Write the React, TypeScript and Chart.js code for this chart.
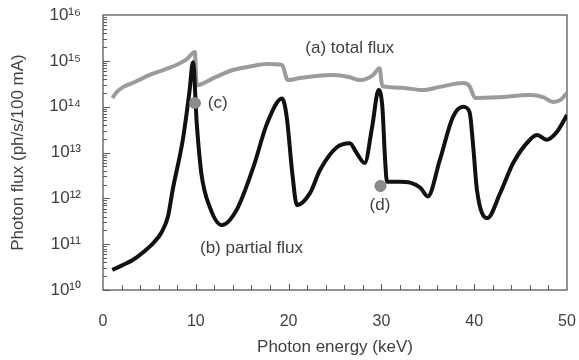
import React, { useEffect, useRef } from 'react';
import { Chart, registerables } from 'chart.js';

Chart.register(...registerables);

// (a) total flux
const totalEnergy = [1, 1.5, 2.2, 3.5, 5.1, 6.5, 8.0, 9.0, 9.9, 10.1, 12, 14, 16, 17.7, 19.3, 19.9, 21.2, 22.3, 24.8, 26.6, 27.7, 29.1, 29.8, 30.1, 32, 34.5, 36.3, 38.8, 39.5, 40.1, 42.5, 46, 47.5, 48.5, 49.3, 50];
const totalFlux = [1.55e14, 2.1e14, 2.7e14, 3.5e14, 5.0e14, 6.3e14, 8.3e14, 1.07e15, 1.55e15, 2.95e14, 4.3e14, 6.3e14, 7.6e14, 8.5e14, 8.1e14, 3.8e14, 4.2e14, 4.5e14, 4.9e14, 4.4e14, 3.8e14, 4.9e14, 6.9e14, 2.8e14, 2.6e14, 2.3e14, 2.7e14, 3.3e14, 2.8e14, 1.55e14, 1.6e14, 1.8e14, 1.6e14, 1.26e14, 1.4e14, 2.0e14];

// (b) partial flux
const partialEnergy = [1, 2, 3.2, 4.5, 5.5, 6.3, 7, 7.5, 8.6, 9.3, 9.7, 10.1, 10.6, 11.5, 12.8, 14.4, 16.2, 17.7, 19.3, 19.8, 20.4, 20.9, 22.3, 23.4, 25.2, 26.6, 27.3, 28.2, 29.0, 29.7, 30.1, 30.4, 30.6, 32, 33.1, 34.2, 35, 36.3, 37.7, 38.8, 39.5, 39.9, 40.3, 41.4, 42.8, 44.2, 46, 46.8, 47.8, 48.9, 50];
const partialFlux = [2.75e10, 3.4e10, 4.5e10, 7.1e10, 1.1e11, 1.8e11, 4.0e11, 1.5e12, 1.9e13, 2.0e14, 9.3e14, 4.4e13, 3.5e12, 6.5e11, 2.6e11, 5.6e11, 4.8e12, 4.4e13, 1.5e14, 5.9e13, 3.5e12, 7.1e11, 1.3e12, 4.2e12, 1.3e13, 1.6e13, 1.0e13, 5.9e12, 3.6e13, 2.3e14, 1.0e14, 6.9e12, 2.3e12, 2.3e12, 2.2e12, 1.7e12, 1.1e12, 6.9e12, 5.9e13, 1.0e14, 7.6e13, 1.3e13, 1.5e12, 3.7e11, 1.3e12, 5.9e12, 1.9e13, 2.4e13, 1.9e13, 2.8e13, 6.6e13];

// marked points (c) and (d)
const markerEnergy = [9.9, 29.9];
const markerFlux = [1.2e14, 1.86e12];

const yTickValues = [1e10, 1e11, 1e12, 1e13, 1e14, 1e15, 1e16];
const xTickValues = [0, 10, 20, 30, 40, 50];

const annotations = [
  { text: '(a) total flux', x: 21.8, y: 1.9e15, align: 'left' },
  { text: '(b) partial flux', x: 10.45, y: 8.3e10, align: 'left' },
  { text: '(c)', x: 11.3, y: 1.2e14, align: 'left' },
  { text: '(d)', x: 29.85, y: 7.1e11, align: 'center' },
];

const FONT = '"Liberation Sans", Arial, sans-serif';
const TEXT = '#404040';
const SUP: Record<string, string> = { '0': '⁰', '1': '¹', '2': '²', '3': '³', '4': '⁴', '5': '⁵', '6': '⁶', '7': '⁷', '8': '⁸', '9': '⁹' };

const framePlugin = {
  id: 'frameTicks',
  beforeDatasetsDraw(chart: any) {
    const { ctx, chartArea, scales } = chart;
    const { left, right, top, bottom } = chartArea;
    ctx.save();
    ctx.strokeStyle = '#5a5a5a';
    ctx.lineWidth = 1.3;
    ctx.strokeRect(left, top, right - left, bottom - top);
    ctx.lineWidth = 1;
    ctx.beginPath();
    for (let v = 2; v < 50; v += 2) {
      const px = Math.round(scales.x.getPixelForValue(v)) + 0.5;
      const len = v % 10 === 0 ? 6 : 5;
      ctx.moveTo(px, bottom);
      ctx.lineTo(px, bottom - len);
    }
    for (let e = 10; e < 16; e++) {
      for (let m = 1; m < 10; m++) {
        const py = Math.round(scales.y.getPixelForValue(m * Math.pow(10, e))) + 0.5;
        const len = m === 1 ? 7 : 4;
        ctx.moveTo(left, py);
        ctx.lineTo(left + len, py);
      }
    }
    ctx.stroke();
    ctx.restore();
  },
  afterDatasetsDraw(chart: any) {
    const { ctx, scales } = chart;
    ctx.save();
    ctx.fillStyle = TEXT;
    ctx.font = `17px ${FONT}`;
    ctx.textBaseline = 'middle';
    annotations.forEach((a) => {
      ctx.textAlign = a.align;
      ctx.fillText(a.text, scales.x.getPixelForValue(a.x), scales.y.getPixelForValue(a.y));
    });
    ctx.restore();
  },
};

export default function App() {
  const ref = useRef<HTMLCanvasElement>(null);
  useEffect(() => {
    document.body.style.margin = '0';
    const canvas = ref.current!;
    const chart = new Chart(canvas, {
      type: 'line',
      data: {
        datasets: [
          {
            data: markerEnergy.map((x, i) => ({ x, y: markerFlux[i] })),
            showLine: false,
            pointRadius: 5.5,
            pointBackgroundColor: '#8c8c8c',
            pointBorderColor: '#777',
            pointBorderWidth: 1,
          },
          {
            data: partialEnergy.map((x, i) => ({ x, y: partialFlux[i] })),
            borderColor: '#111',
            borderWidth: 4,
            pointRadius: 0,
            cubicInterpolationMode: 'monotone',
          },
          {
            data: totalEnergy.map((x, i) => ({ x, y: totalFlux[i] })),
            borderColor: '#9b9b9b',
            borderWidth: 4,
            pointRadius: 0,
            cubicInterpolationMode: 'monotone',
          },
        ],
      },
      options: {
        animation: false,
        responsive: false,
        layout: { padding: { top: 15, right: 12, left: 0, bottom: 0 } },
        plugins: { legend: { display: false }, tooltip: { enabled: false } },
        scales: {
          x: {
            type: 'linear',
            min: 0,
            max: 50,
            afterBuildTicks: (s: any) => { s.ticks = xTickValues.map((v) => ({ value: v })); },
            afterFit: (s: any) => { s.height = 70; s.paddingLeft = 0; s.paddingRight = 0; },
            grid: { display: false },
            border: { display: false },
            ticks: { color: TEXT, font: { size: 16, family: FONT }, padding: 14, maxRotation: 0 },
            title: { display: true, text: 'Photon energy (keV)', color: TEXT, font: { size: 17, family: FONT }, padding: { top: 0, bottom: 2 } },
          },
          y: {
            type: 'logarithmic',
            min: 1e10,
            max: 1e16,
            afterBuildTicks: (s: any) => { s.ticks = yTickValues.map((v) => ({ value: v })); },
            afterFit: (s: any) => { s.width = 103; s.paddingTop = 0; s.paddingBottom = 0; },
            grid: { display: false },
            border: { display: false },
            ticks: {
              color: TEXT,
              font: { size: 17, family: FONT },
              padding: 14,
              callback: (v: any) => '10' + String(Math.round(Math.log10(Number(v)))).split('').map((c) => SUP[c]).join(''),
            },
            title: { display: true, text: 'Photon flux (ph/s/100 mA)', color: TEXT, font: { size: 17, family: FONT }, padding: { top: 8, bottom: 0 } },
          },
        },
      },
      plugins: [framePlugin],
    } as any);
    return () => chart.destroy();
  }, []);
  return (
    <div style={{ width: 579, height: 360 }}>
      <canvas ref={ref} width={579} height={360} style={{ width: 579, height: 360 }} />
    </div>
  );
}
